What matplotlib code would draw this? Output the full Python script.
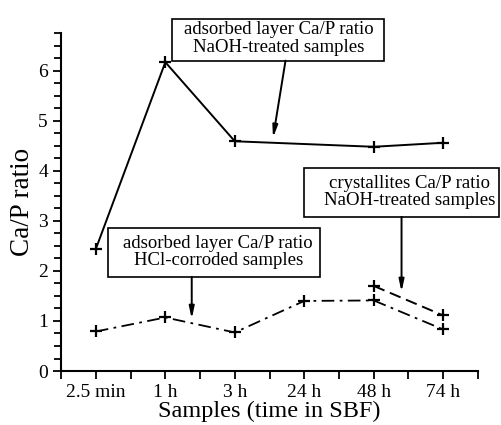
import numpy as np
import matplotlib.pyplot as plt
from matplotlib.patches import Rectangle
from matplotlib.ticker import MultipleLocator

plt.rcParams['font.family'] = ['Liberation Serif', 'DejaVu Serif']

samples = ["2.5 min", "1 h", "3 h", "24 h", "48 h", "74 h"]

# adsorbed layer, NaOH-treated (no measurement at 24 h)
naoh_idx = [0, 1, 2, 4, 5]
naoh_ads = [2.44, 6.17, 4.59, 4.48, 4.56]

# adsorbed layer, HCl-corroded
hcl_ads = [0.79, 1.07, 0.77, 1.40, 1.41, 0.83]

# crystallites, NaOH-treated
cryst_idx = [4, 5]
naoh_cryst = [1.70, 1.11]

x = np.arange(len(samples))

fig = plt.figure(figsize=(5.01, 4.25), dpi=100)
ax = fig.add_axes([0.122, 0.127, 0.832, 0.795])

mk = dict(marker='+', markersize=9, markeredgewidth=1.6, color='black')
ax.plot(naoh_idx, naoh_ads, linestyle='-', linewidth=1.4, **mk)
ax.plot(x, hcl_ads, linestyle=(0, (7, 3, 1.5, 3)), linewidth=1.3, **mk)
ax.plot(cryst_idx, naoh_cryst, linestyle=(0, (6, 3)), linewidth=1.4, **mk)

ax.set_xlim(-0.5, 5.5)
ax.set_ylim(0, 6.75)
ax.set_xticks(x)
ax.set_xticklabels(samples)
ax.xaxis.set_minor_locator(MultipleLocator(1, offset=0.5))
ax.yaxis.set_major_locator(MultipleLocator(1))
ax.yaxis.set_minor_locator(MultipleLocator(0.25))
ax.tick_params(which='both', direction='out', width=1.3, labelsize=14)
ax.tick_params(which='major', length=6)
ax.tick_params(which='minor', length=5)
ax.tick_params(axis='x', which='minor', length=6)
for s in ['top', 'right']:
    ax.spines[s].set_visible(False)
for s in ['left', 'bottom']:
    ax.spines[s].set_linewidth(1.5)

ax.set_ylabel("Ca/P ratio", fontsize=19.5, labelpad=2)
ax.set_xlabel("Samples (time in SBF)", fontsize=17.5, labelpad=0)

arrow = dict(arrowstyle='-|>,head_length=0.7,head_width=0.15', color='black',
             linewidth=1.4, shrinkA=0, shrinkB=0)


def label_box(text, x0, y0, x1, y1, tx, ty, start, tip):
    ax.add_patch(Rectangle((x0, y0), x1 - x0, y1 - y0, facecolor='white',
                           edgecolor='black', linewidth=1.2, clip_on=False, zorder=4))
    ax.text(tx, ty, text, ha='center', va='center', fontsize=13.5,
            linespacing=1.05, zorder=5, clip_on=False)
    ax.annotate("", xy=tip, xytext=start, arrowprops=arrow, zorder=5,
                annotation_clip=False)


label_box("adsorbed layer Ca/P ratio\nNaOH-treated samples",
          1.094, 6.20, 4.144, 7.04, 2.63, 6.64, (2.73, 6.20), (2.55, 4.66))
label_box("crystallites Ca/P ratio\nNaOH-treated samples",
          2.993, 3.08, 5.80, 4.06, 4.52, 3.58, (4.40, 3.08), (4.40, 1.58))
label_box("adsorbed layer Ca/P ratio\nHCl-corroded samples",
          0.173, 1.88, 3.223, 2.86, 1.76, 2.38, (1.38, 1.88), (1.38, 1.04))

fig.savefig("out.png", dpi=100)
